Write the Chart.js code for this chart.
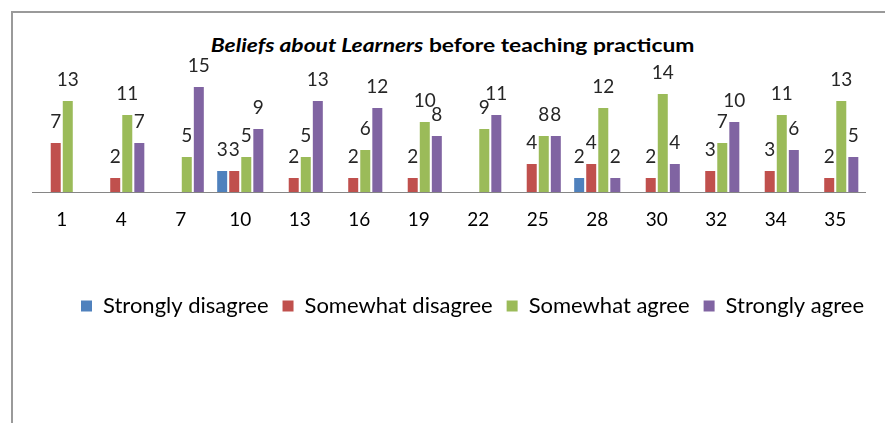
<!DOCTYPE html>
<html>
<head>
<meta charset="utf-8">
<script src="https://cdn.jsdelivr.net/npm/chart.js@4.4.1/dist/chart.umd.min.js"></script>
<style>
  html, body { margin: 0; padding: 0; background: #fff; }
  #wrap { position: relative; width: 885px; height: 423px; overflow: hidden; }
  #frame {
    position: absolute; left: 11px; top: 11px; width: 900px; height: 430px;
    border-left: 2px solid #9a9a9a; border-top: 2px solid #9a9a9a;
  }
  #title {
    position: absolute; left: 10px; width: 885px; top: 33px; text-align: center;
    font-family: Lato, "Open Sans", sans-serif; font-weight: bold; font-size: 19px; color: #000;
    transform: scaleX(1.2); transform-origin: 442px 0;
  }
  canvas { position: absolute; left: 0; top: 0; }
</style>
</head>
<body>
<div id="wrap">
  <div id="frame"></div>
  <div id="title"><i>Beliefs about Learners</i> before teaching practicum</div>
  <canvas id="chart" width="885" height="423"></canvas>
</div>
<script>
( function () {
	'use strict';

	// Item numbers on the x axis
	const items = [ '1', '4', '7', '10', '13', '16', '19', '22', '25', '28', '30', '32', '34', '35' ];

	// Counts per answer (null = no bar, no label)
	const stronglyDisagree = [ null, null, null, 3, null, null, null, null, null, 2, null, null, null, null ];
	const somewhatDisagree = [ 7, 2, null, 3, 2, 2, 2, null, 4, 4, 2, 3, 3, 2 ];
	const somewhatAgree    = [ 13, 11, 5, 5, 5, 6, 10, 9, 8, 12, 14, 7, 11, 13 ];
	const stronglyAgree    = [ null, 7, 15, 9, 13, 12, 8, 11, 8, 2, 4, 10, 6, 5 ];

	const BLUE   = '#4f81bd';
	const RED    = '#c0504d';
	const GREEN  = '#9bbb59';
	const PURPLE = '#8064a2';
	const FONT   = 'Lato, "Open Sans", sans-serif';

	// Value labels above each bar
	const barLabels = {
		id: 'barLabels',
		afterDatasetsDraw( chart ) {
			const ctx = chart.ctx;
			ctx.save();
			ctx.font = '19px ' + FONT;
			ctx.fillStyle = '#262626';
			ctx.textAlign = 'center';
			ctx.textBaseline = 'middle';
			chart.data.datasets.forEach( ( ds, i ) => {
				chart.getDatasetMeta( i ).data.forEach( ( bar, j ) => {
					const v = ds.data[ j ];
					if ( v === null ) {
						return;
					}
					ctx.fillText( String( v ), bar.x, bar.y - 21 );
				} );
			} );
			ctx.restore();
		},
	};

	// legend sits a little right of the plot centre in the original
	const legendShift = {
		id: 'legendShift',
		afterLayout( chart ) {
			chart.legend.left += 24;
			chart.legend.right += 24;
		},
	};

	const mk = ( label, data, color ) => ( {
		label,
		data,
		backgroundColor: color,
		borderWidth: 0,
		barPercentage: 0.83,
		categoryPercentage: 0.81,
	} );

	new Chart( document.getElementById( 'chart' ), {
		type: 'bar',
		data: {
			labels  : items,
			datasets: [
				mk( 'Strongly disagree', stronglyDisagree, BLUE ),
				mk( 'Somewhat disagree', somewhatDisagree, RED ),
				mk( 'Somewhat agree', somewhatAgree, GREEN ),
				mk( 'Strongly agree', stronglyAgree, PURPLE ),
			],
		},
		options: {
			responsive: false,
			animation: false,
			layout: { padding: { left: 32, right: 20, top: 80, bottom: 96 } },
			plugins: {
				legend: {
					position: 'bottom',
					labels: {
						font: { family: FONT, size: 22 },
						color: '#000',
						boxWidth: 11,
						boxHeight: 11,
						padding: 14,
					},
				},
				tooltip: { enabled: false },
			},
			scales: {
				x: {
					grid: { display: false, drawTicks: false },
					border: { color: '#868686', width: 1 },
					ticks: { font: { family: FONT, size: 19 }, color: '#000', padding: 16 },
					afterFit: ( s ) => { s.height = 89; },
				},
				y: {
					display: false,
					min: 0,
					max: 16,
				},
			},
		},
		plugins: [ barLabels, legendShift ],
	} );
} )();
</script>
</body>
</html>
